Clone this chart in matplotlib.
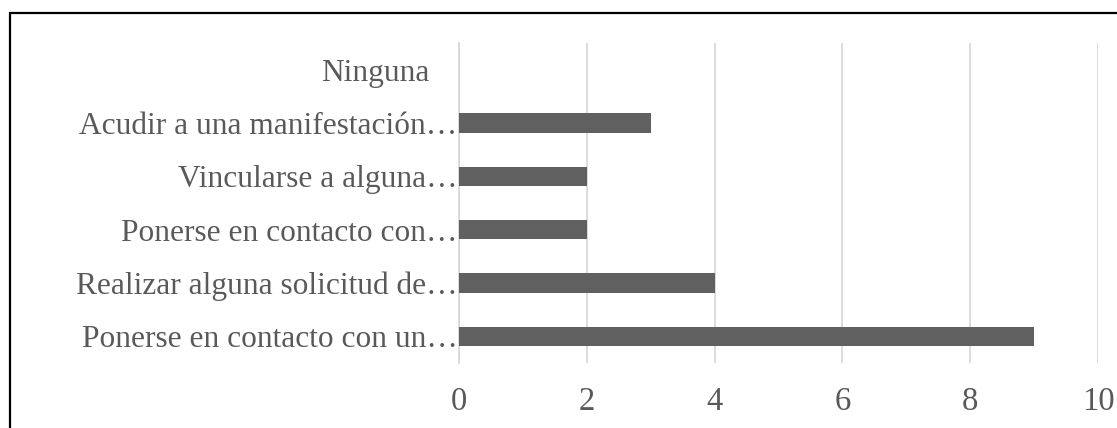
import matplotlib
matplotlib.use("Agg")
from matplotlib import pyplot as plt
from matplotlib.patches import Rectangle
from matplotlib.transforms import ScaledTranslation

# categories, bottom to top
categories = [
    "Ponerse en contacto con un…",
    "Realizar alguna solicitud de…",
    "Ponerse en contacto con…",
    "Vincularse a alguna…",
    "Acudir a una manifestación…",
    "Ninguna",
]
values = [9, 4, 2, 2, 3, 0]
xticks = [0, 2, 4, 6, 8, 10]

plt.rcParams['font.family'] = ['Liberation Serif', 'DejaVu Serif']
text_color = '#595959'

fig = plt.figure(figsize=(11.17, 4.28), dpi=100)
ax = fig.add_axes([459/1117, 1 - 363/428, 639/1117, 320/428])

pos = list(range(len(categories)))
ax.barh(pos, values, height=0.36, color='#606060', zorder=3)

ax.set_xlim(0, 10)
ax.set_ylim(-0.5, len(categories) - 0.5)
ax.set_xticks(xticks)
ax.set_yticks(pos)
ax.set_yticklabels(categories)
ax.grid(axis='x', color='#d9d9d9', linewidth=1.3, zorder=0)
ax.tick_params(axis='y', length=0, labelsize=22.6, colors=text_color, pad=1)
ax.tick_params(axis='x', length=0, labelsize=23.5, colors=text_color, pad=17)
for side in ['top', 'right', 'bottom']:
    ax.spines[side].set_visible(False)
ax.spines['left'].set_color('#d9d9d9')
ax.spines['left'].set_linewidth(1.3)

# "Ninguna" has no ellipsis, so it sits a bit further left
for lab in ax.get_yticklabels():
    if lab.get_text() == "Ninguna":
        lab.set_transform(lab.get_transform() + ScaledTranslation(-28/100, 0, fig.dpi_scale_trans))

# frame around the chart
fig.patches.append(Rectangle((10/1117, -0.1), 1.2, 1.1 - 13/428,
                             transform=fig.transFigure, fill=False,
                             edgecolor='black', linewidth=1.6))

fig.savefig('out.png', dpi=100)
